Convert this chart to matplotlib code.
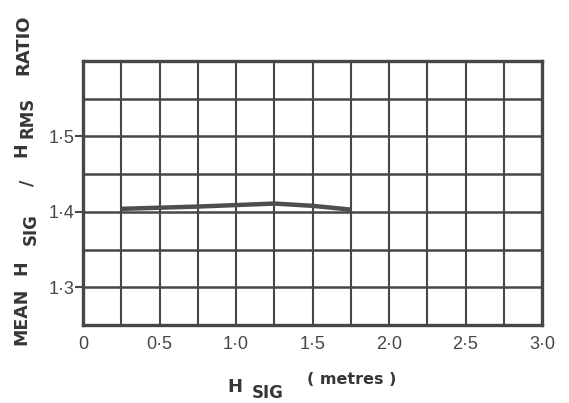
import numpy as np
import matplotlib
matplotlib.use("Agg")
import matplotlib.pyplot as plt

# Mean Hsig/Hrms ratio against Hsig
hsig = [0.25, 0.75, 1.25, 1.5, 1.75]
ratio = [1.404, 1.407, 1.411, 1.408, 1.403]

x_ticks = [0, 0.5, 1.0, 1.5, 2.0, 2.5, 3.0]
x_labels = ["0", "0·5", "1·0", "1·5", "2·0", "2·5", "3·0"]
y_ticks = [1.3, 1.4, 1.5]
y_labels = ["1·3", "1·4", "1·5"]

INK = "#474747"
LABEL = "#363636"
W, H = 569, 403

fig = plt.figure(figsize=(W / 100, H / 100), dpi=100)
ax = fig.add_axes([83 / W, 1 - 325 / H, 459 / W, 264 / H])
ax.set_xlim(0, 3.0)
ax.set_ylim(1.25, 1.60)

# square grid: 0.25 m columns, 0.05 rows
for gx in np.arange(0.25, 3.0, 0.25):
    ax.axvline(gx, color=INK, lw=1.5, zorder=1)
for gy in np.arange(1.30, 1.60, 0.05):
    ax.axhline(gy, color=INK, lw=1.8, zorder=1)
for s in ax.spines.values():
    s.set_color(INK)
    s.set_linewidth(2.4)

ax.plot(hsig, ratio, color="#4e4e4e", lw=3.2, solid_capstyle="butt", zorder=3)

tick_font = dict(family="Liberation Sans", size=13, color=INK)
ax.set_xticks(x_ticks)
ax.set_xticklabels(x_labels, fontdict=tick_font)
ax.tick_params(axis="x", length=0, pad=8)
ax.set_yticks(y_ticks)
ax.set_yticklabels(y_labels, fontdict=tick_font)
ax.tick_params(axis="y", length=6, width=1.5, color=INK, pad=0)


def px_text(x, y, s, **kw):
    # place text by pixel position measured from the top-left corner
    fig.text(x / W, 1 - y / H, s, fontweight="bold", color=LABEL, **kw)


# vertical axis title, built from pieces so the subscripts sit low
for s, x, y, size in [("MEAN", 21, 316, 12.5), ("H", 21, 268, 12.5),
                      ("SIG", 31, 229, 12), ("/", 28, 183, 12.5),
                      ("H", 21, 150, 12.5), ("RMS", 28, 117, 12),
                      ("RATIO", 23, 45, 13)]:
    px_text(x, y, s, rotation=90, ha="center", va="center", fontsize=size)

# horizontal axis title
px_text(235, 387, "H", ha="center", va="center", fontsize=13)
px_text(268, 393, "SIG", ha="center", va="center", fontsize=12)
px_text(352, 379, "( metres )", ha="center", va="center", fontsize=11.5)

fig.savefig("out.png", dpi=100, facecolor="white")
